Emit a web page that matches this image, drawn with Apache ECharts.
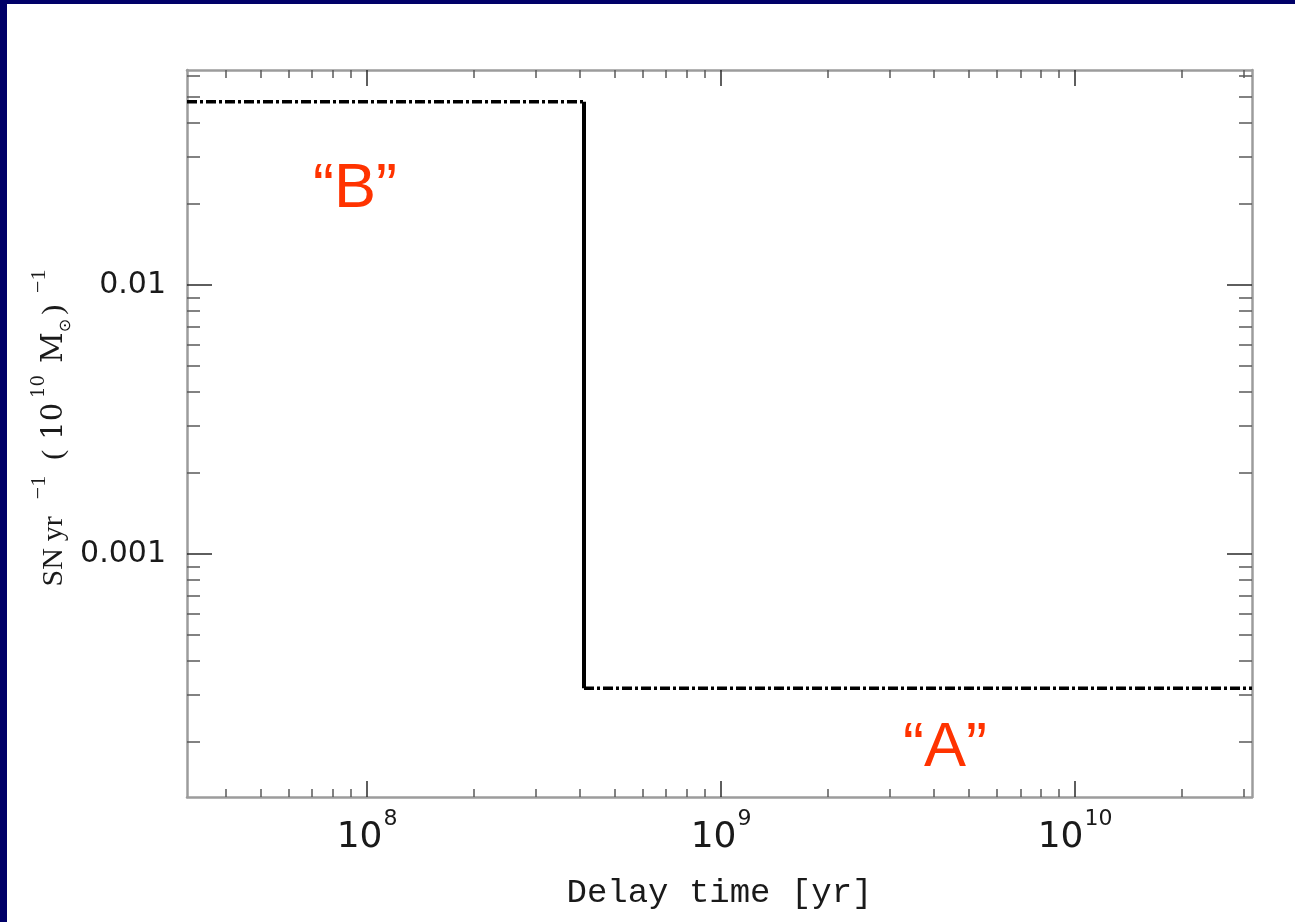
<!DOCTYPE html>
<html>
<head>
<meta charset="utf-8">
<script src="https://cdn.jsdelivr.net/npm/echarts@6/dist/echarts.min.js"></script>
<style>
  html, body { margin: 0; padding: 0; background: #000068; }
  #frame { position: absolute; left: 7px; top: 4px; width: 1288px; height: 918px; background: #ffffff; }
  #chart { position: absolute; left: 0; top: 0; width: 1295px; height: 922px; }
</style>
</head>
<body>
<div id="frame"></div>
<div id="chart"></div>
<script>
// ---- data ----
const xExtent = [3.1e7, 3.16e10];            // delay-time axis range [yr]
const yExtent = [1.25e-4, 0.063];            // SN rate axis range
const xMajorTicks = [1e8, 1e9, 1e10];
const xMinorTicks = [4e7, 5e7, 6e7, 7e7, 8e7, 9e7,
  2e8, 3e8, 4e8, 5e8, 6e8, 7e8, 8e8, 9e8,
  2e9, 3e9, 4e9, 5e9, 6e9, 7e9, 8e9, 9e9,
  2e10, 3e10];
const xTickExponents = ['8', '9', '10'];
const yMajorTicks = [0.001, 0.01];
const yMinorTicks = [2e-4, 3e-4, 4e-4, 5e-4, 6e-4, 7e-4, 8e-4, 9e-4,
  2e-3, 3e-3, 4e-3, 5e-3, 6e-3, 7e-3, 8e-3, 9e-3,
  2e-2, 3e-2, 4e-2, 5e-2, 6e-2];
const yTickLabels = ['0.001', '0.01'];
const delayTime = [3.1e7, 4.1e8, 3.16e10];   // start, step, end
const snRate = [0.048, 3.17e-4];             // level "B", level "A"
const annotations = ['\u201cB\u201d', '\u201cA\u201d'];

// ---- chart ----
const chart = echarts.init(document.getElementById('chart'), null, { renderer: 'canvas' });
const axisGray = '#9c9c9c';
const tickDark = '#2a2a2a';
const tickMinor = '#5a5a5a';
const textColor = '#1a1a1a';

function xAx(pos, major, withLabel, withLine) {
  return {
    type: 'log', logBase: 10, position: pos, min: xExtent[0], max: xExtent[1],
    axisLine: { show: withLine, lineStyle: { color: axisGray, width: 2.5 } },
    axisTick: { show: true, inside: true, length: major ? 16 : 8,
      customValues: major ? xMajorTicks : xMinorTicks,
      lineStyle: { color: major ? tickDark : tickMinor, width: 1.5 } },
    axisLabel: withLabel ? {
      show: true, customValues: xMajorTicks, margin: 11,
      formatter: function (v) {
        const i = xMajorTicks.findIndex(t => Math.abs(Math.log10(t) - Math.log10(v)) < 1e-6);
        return '{b|10}{s|' + xTickExponents[i] + '}';
      },
      rich: {
        b: { fontFamily: 'DejaVu Sans', fontSize: 36, color: textColor, verticalAlign: 'bottom' },
        s: { fontFamily: 'DejaVu Sans', fontSize: 22, color: textColor, verticalAlign: 'top', padding: [0, 0, 26, 1] }
      }
    } : { show: false },
    splitLine: { show: false }, minorTick: { show: false }, minorSplitLine: { show: false }
  };
}
function yAx(pos, major, withLabel, withLine) {
  return {
    type: 'log', logBase: 10, position: pos, min: yExtent[0], max: yExtent[1],
    axisLine: { show: withLine, lineStyle: { color: axisGray, width: 2.5 } },
    axisTick: { show: true, inside: true, length: major ? 25 : 13,
      customValues: major ? yMajorTicks : yMinorTicks,
      lineStyle: { color: major ? tickDark : tickMinor, width: 1.5 } },
    axisLabel: withLabel ? {
      show: true, customValues: yMajorTicks, margin: 21,
      fontFamily: 'DejaVu Sans', fontSize: 30, color: textColor,
      formatter: function (v) {
        const i = yMajorTicks.findIndex(t => Math.abs(Math.log10(t) - Math.log10(v)) < 1e-6);
        return yTickLabels[i];
      }
    } : { show: false },
    splitLine: { show: false }, minorTick: { show: false }, minorSplitLine: { show: false }
  };
}

const xAxes = [xAx('bottom', true, true, true), xAx('bottom', false, false, false),
               xAx('top', true, false, true), xAx('top', false, false, false)];
xAxes[0].name = 'Delay time [yr]';
xAxes[0].nameLocation = 'middle';
xAxes[0].nameGap = 79;
xAxes[0].nameTextStyle = { fontFamily: 'Liberation Mono', fontSize: 34, color: textColor };

const yAxes = [yAx('left', true, true, true), yAx('left', false, false, false),
               yAx('right', true, false, true), yAx('right', false, false, false)];

const LS = 'Liberation Serif', DS = 'DejaVu Serif';
function tok(family, size, va, pad) {
  return { fontFamily: family, fontSize: size, verticalAlign: va, padding: pad, fill: textColor, color: textColor };
}

const dashPattern = [10, 3, 3, 3];
const option = {
  animation: false,
  backgroundColor: 'transparent',
  grid: { left: 187, top: 70, right: 43, bottom: 125, containLabel: false },
  xAxis: xAxes,
  yAxis: yAxes,
  series: [
    { type: 'line', symbol: 'none', xAxisIndex: 0, yAxisIndex: 0,
      data: [[delayTime[0], snRate[0]], [delayTime[1], snRate[0]]],
      lineStyle: { color: '#000', width: 3.5, type: dashPattern, cap: 'butt' } },
    { type: 'line', symbol: 'none', xAxisIndex: 0, yAxisIndex: 0,
      data: [[delayTime[1], snRate[0]], [delayTime[1], snRate[1]]],
      lineStyle: { color: '#000', width: 4, type: 'solid' } },
    { type: 'line', symbol: 'none', xAxisIndex: 0, yAxisIndex: 0,
      data: [[delayTime[1], snRate[1]], [delayTime[2], snRate[1]]],
      lineStyle: { color: '#000', width: 3.5, type: dashPattern, cap: 'butt' } }
  ],
  graphic: [
    { type: 'text', x: 313, y: 190, style: { text: annotations[0], fontFamily: 'Liberation Sans', fontSize: 63, fill: '#ff3300', align: 'left', verticalAlign: 'middle' } },
    { type: 'text', x: 903, y: 749, style: { text: annotations[1], fontFamily: 'Liberation Sans', fontSize: 63, fill: '#ff3300', align: 'left', verticalAlign: 'middle' } },
    { type: 'text', x: 51, y: 428, rotation: Math.PI / 2,
      style: {
        text: '{mSN|SN}{mYr|yr}{p1|\u22121}{mPar|(}{nTen|10}{p2|10}{mM|M}{d|\u2299}{mCl|)}{p3|\u22121}',
        align: 'center', verticalAlign: 'middle', fill: textColor,
        rich: {
          mSN: tok(LS, 30, 'bottom', [0, 0, 5, 0]),
          mYr: tok(LS, 30, 'bottom', [0, 0, 5, 7]),
          p1: tok(LS, 22, 'top', [0, 0, 24, 17]),
          mPar: tok(LS, 30, 'bottom', [0, 0, 5, 16]),
          nTen: tok(DS, 29, 'bottom', [0, 0, 5, 10]),
          p2: tok(DS, 18, 'top', [2, 0, 24, 5]),
          mM: tok(DS, 30, 'bottom', [0, 0, 5, 12]),
          d: tok('DejaVu Sans', 16, 'bottom', [0, 0, 0, 0]),
          mCl: tok(LS, 30, 'bottom', [0, 0, 5, 4]),
          p3: tok(LS, 22, 'top', [0, 0, 24, 12])
        }
      } }
  ]
};
chart.setOption(option);
</script>
</body>
</html>
